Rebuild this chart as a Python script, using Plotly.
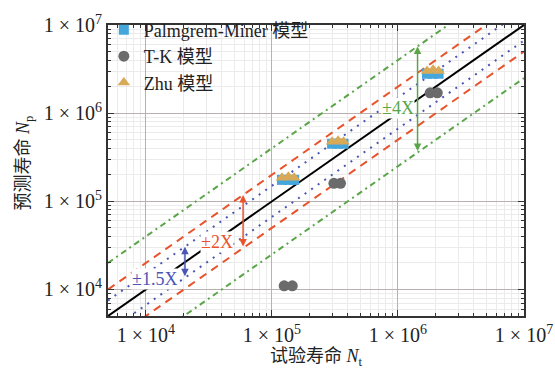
import numpy as np
import plotly.graph_objects as go

# ---- data ----
pm_test = [1.2e5, 1.35e5, 1.5e5, 3.0e5, 3.35e5, 3.7e5, 1.7e6, 1.9e6, 2.1e6]
pm_pred = [1.75e5, 1.75e5, 1.75e5, 4.5e5, 4.5e5, 4.5e5, 2.8e6, 2.8e6, 2.8e6]
tk_test = [1.25e5, 1.45e5, 3.1e5, 3.5e5, 1.8e6, 2.05e6]
tk_pred = [1.1e4, 1.1e4, 1.6e5, 1.6e5, 1.7e6, 1.7e6]
zhu_test = [1.2e5, 1.35e5, 1.5e5, 3.0e5, 3.35e5, 3.7e5, 1.7e6, 1.9e6, 2.1e6]
zhu_pred = [1.85e5, 1.9e5, 1.85e5, 4.75e5, 4.85e5, 4.75e5, 3.0e6, 3.1e6, 3.0e6]

band_factors = [1.5, 2, 4]
band_labels = ["±1.5X", "±2X", "±4X"]
band_colors = ["#4a55b5", "#e8532c", "#5aa548"]
band_dash = ["2px,6px", "8px,6px", "6px,4px,2px,4px"]
label_pos_x = [1.18e4, 3.67e4, 1.0e6]     # label position (x)
label_pos_y = [1.32e4, 3.42e4, 1.13e6]
arrow_x = [2.04e4, 5.9e4, 1.43e6]

tick_vals = [1e4, 1e5, 1e6, 1e7]
tick_text = ["1 × 10<sup>4</sup>", "1 × 10<sup>5</sup>", "1 × 10<sup>6</sup>", "1 × 10<sup>7</sup>"]
minor_vals = [k * 10 ** e for e in range(3, 7) for k in range(2, 10)]
x_min, x_max = 5000, 1e7

serif = "Liberation Serif, Noto Sans CJK SC, serif"

fig = go.Figure()
line_x = [x_min, x_max]

# reference band lines
for f, c, d in zip(band_factors, band_colors, band_dash):
    for k in (f, 1.0 / f):
        fig.add_trace(go.Scatter(x=line_x, y=[v * k for v in line_x], mode="lines",
                                 line=dict(color=c, width=2, dash=d),
                                 showlegend=False, hoverinfo="skip"))
fig.add_trace(go.Scatter(x=line_x, y=line_x, mode="lines",
                         line=dict(color="black", width=2),
                         showlegend=False, hoverinfo="skip"))

fig.add_trace(go.Scatter(x=pm_test, y=pm_pred, mode="markers", name="Palmgrem-Miner 模型",
                         marker=dict(symbol="square", size=10, color="#45a6dc")))
fig.add_trace(go.Scatter(x=tk_test, y=tk_pred, mode="markers", name="T-K 模型",
                         marker=dict(symbol="circle", size=11, color="#6b6b6b")))
fig.add_trace(go.Scatter(x=zhu_test, y=zhu_pred, mode="markers", name="Zhu 模型",
                         marker=dict(symbol="triangle-up", size=11, color="#d8aa58")))

# arrows and labels
for f, c, lx, ly, ax_, lab in zip(band_factors, band_colors, label_pos_x, label_pos_y, arrow_x, band_labels):
    fig.add_annotation(x=np.log10(ax_), y=np.log10(ax_ * f), xref="x", yref="y",
                       ax=np.log10(ax_), ay=np.log10(ax_ / f), axref="x", ayref="y",
                       showarrow=True, arrowhead=2, arrowsize=1, arrowwidth=1.5,
                       arrowside="end+start", arrowcolor=c, text="")
    fig.add_annotation(x=np.log10(lx), y=np.log10(ly), xref="x", yref="y", text=lab,
                       showarrow=False, font=dict(family=serif, size=18, color=c),
                       bgcolor="white", borderpad=0)

# y-axis title
fig.add_annotation(x=-0.2, y=0.527, xref="paper", yref="paper", textangle=-90,
                   text="预测寿命 <i>N</i><sub>p</sub>", showarrow=False,
                   xanchor="center", yanchor="middle",
                   font=dict(family=serif, size=18, color="#222"))

axis_common = dict(type="log", tickmode="array", tickvals=tick_vals, ticktext=tick_text,
                   ticks="inside", ticklen=6, tickcolor="#333", automargin=False,
                   showline=True, linecolor="#333", linewidth=2, mirror="ticks",
                   showgrid=True, gridcolor="#b9b0b0", gridwidth=1,
                   minor=dict(tickmode="array", tickvals=minor_vals, ticks="inside", ticklen=3,
                              tickcolor="#333", showgrid=True, gridcolor="#ebebeb", gridwidth=1),
                   tickfont=dict(family=serif, size=20, color="#222"),
                   zeroline=False)

fig.update_xaxes(range=[np.log10(x_min), np.log10(x_max)],
                 title=dict(text="试验寿命 <i>N</i><sub>t</sub>", font=dict(family=serif, size=18, color="#222"), standoff=4),
                 **axis_common)
fig.update_yaxes(range=[np.log10(x_min), np.log10(x_max)], **axis_common)

fig.update_layout(width=555, height=374, margin=dict(l=108, r=31, t=14, b=58),
                  plot_bgcolor="white", paper_bgcolor="white",
                  legend=dict(x=-0.01, y=1.046, xanchor="left", yanchor="top",
                              bgcolor="rgba(0,0,0,0)", font=dict(family=serif, size=18, color="#222"),
                              tracegroupgap=0, itemwidth=30))
fig.write_html("out.html")
